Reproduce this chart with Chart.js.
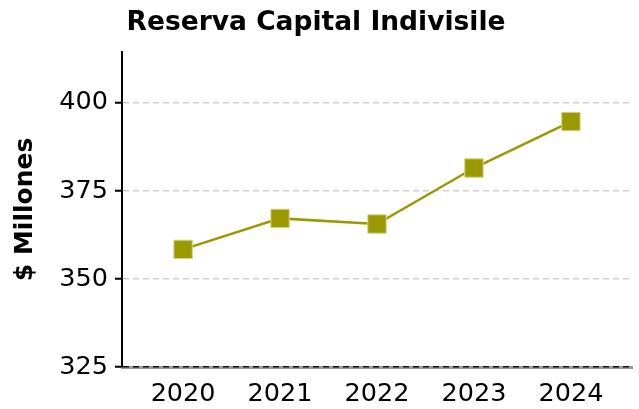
<!DOCTYPE html>
<html>
<head>
<meta charset="utf-8">
<script src="https://cdn.jsdelivr.net/npm/chart.js@4/dist/chart.umd.min.js"></script>
<style>
  html, body { margin: 0; padding: 0; background: #fff; }
  #wrap { width: 639px; height: 409px; }
</style>
</head>
<body>
<div id="wrap"><canvas id="chart" width="639" height="409"></canvas></div>
<script>
// Data
const years = ['2020', '2021', '2022', '2023', '2024'];
const reserva = [358.4, 367.2, 365.6, 381.5, 394.7];
const yTicks = [325, 350, 375, 400];

const olive = '#9a9a00';
const font = 'DejaVu Sans';

let chart = new Chart(document.getElementById('chart'), {
  type: 'line',
  data: {
    datasets: [{
      label: 'Reserva',
      data: reserva.map((v, i) => ({ x: i, y: v })),
      borderColor: olive,
      backgroundColor: olive,
      borderWidth: 2.5,
      pointStyle: 'rect',
      pointRadius: 13,
      pointHoverRadius: 13,
      pointBackgroundColor: olive,
      pointBorderColor: '#d4d48a',
      pointBorderWidth: 1,
      tension: 0
    }]
  },
  options: {
    responsive: false,
    animation: false,
    layout: { autoPadding: false, padding: { left: 0, right: 7, top: 0, bottom: 0 } },
    plugins: {
      legend: { display: false },
      tooltip: { enabled: false },
      title: {
        display: true,
        text: 'Reserva Capital Indivisile',
        color: '#000',
        font: { family: font, size: 26.5, weight: 'bold' },
        padding: { top: 7, bottom: 13 }
      }
    },
    scales: {
      x: {
        type: 'linear',
        min: -0.63,
        max: 4.63,
        afterBuildTicks: s => { s.ticks = years.map((y, i) => ({ value: i })); },
        afterFit: s => { s.height = 42; },
        ticks: {
          color: '#000',
          font: { family: font, size: 25.5 },
          padding: 12,
          maxRotation: 0,
          callback: v => years[v]
        },
        grid: { display: false, drawTicks: false },
        border: { display: true, color: '#999', width: 3, z: -1 }
      },
      y: {
        min: 325,
        max: 414.5,
        afterBuildTicks: s => { s.ticks = yTicks.map(v => ({ value: v })); },
        afterFit: s => { s.width = 122; },
        ticks: {
          color: '#000',
          font: { family: font, size: 25.5 },
          padding: 7
        },
        grid: {
          color: c => c.tick && c.tick.value === 325 ? '#111' : '#d0d0d0',
          lineWidth: 1.5,
          tickColor: '#000',
          tickLength: 7,
          tickWidth: 2
        },
        border: { display: true, color: '#000', width: 2, dash: [6, 4] },
        title: {
          display: true,
          text: '$ Millones',
          color: '#000',
          font: { family: font, size: 25, weight: 'bold' },
          padding: { top: 10, bottom: 0 }
        }
      }
    }
  }
});
</script>
</body>
</html>
